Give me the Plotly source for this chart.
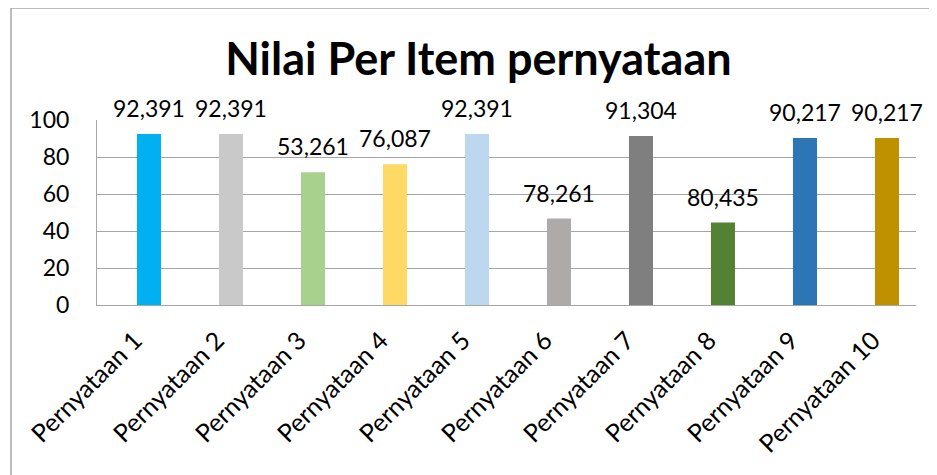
import plotly.graph_objects as go

# data
kategori = ['Pernyataan 1', 'Pernyataan 2', 'Pernyataan 3', 'Pernyataan 4', 'Pernyataan 5',
            'Pernyataan 6', 'Pernyataan 7', 'Pernyataan 8', 'Pernyataan 9', 'Pernyataan 10']
nilai = [92.391, 92.391, 71.739, 76.087, 92.391, 46.739, 91.304, 44.565, 90.217, 90.217]
label = ['92,391', '92,391', '53,261', '76,087', '92,391', '78,261', '91,304', '80,435', '90,217', '90,217']
y_ticks = [0, 20, 40, 60, 80, 100]

warna = ['#00B0F0', '#C9C9C9', '#A9D18E', '#FFD966', '#BDD7EE',
         '#AEAAAA', '#7F7F7F', '#548235', '#2E75B6', '#BF9000']
font = 'Lato'
abu = '#A6A6A6'

fig = go.Figure()
fig.add_bar(x=kategori, y=nilai, marker_color=warna, marker_line_width=0,
            hoverinfo='x+y', showlegend=False)

# data labels sit a fixed distance above each bar
for k, v, t in zip(kategori, nilai, label):
    fig.add_annotation(x=k, y=v, text=t, showarrow=False, yanchor='middle', yshift=26,
                       font=dict(family=font, size=23, color='black'))

# outer chart frame (right and bottom edges fall outside the picture)
fig.add_shape(type='line', xref='paper', yref='paper', x0=-0.105, x1=-0.105, y0=-1.2, y1=1.605,
              line=dict(color=abu, width=1.5))
fig.add_shape(type='line', xref='paper', yref='paper', x0=-0.105, x1=1.2, y0=1.605, y1=1.605,
              line=dict(color=abu, width=1.5))

# page body adds 8px, so the figure is laid out 8px up/left
fig.update_layout(
    width=937, height=475,
    margin=dict(l=89, r=29, t=112, b=178),
    paper_bgcolor='white', plot_bgcolor='white',
    bargap=0.707,
    title=dict(text='<b>Nilai Per Item pernyataan</b>', x=0.5021, xref='container', xanchor='center',
               y=1 - 51 / 475, yref='container', yanchor='middle',
               font=dict(family=font, size=45, color='black')),
    font=dict(family=font, size=23, color='black'),
)
fig.update_xaxes(tickangle=-45, showline=True, linecolor=abu, linewidth=1, showgrid=False,
                 range=[-0.634, 9.354],
                 ticklabelstandoff=10, ticklabelshift=-14,
                 tickfont=dict(family=font, size=25, color='black'))
fig.update_yaxes(range=[0, 100], tickvals=y_ticks, showline=True, linecolor=abu, linewidth=1,
                 showgrid=True, gridcolor=abu, gridwidth=1, zeroline=False,
                 ticklabelstandoff=22, tickfont=dict(family=font, size=23, color='black'))

fig.write_html('out.html')
